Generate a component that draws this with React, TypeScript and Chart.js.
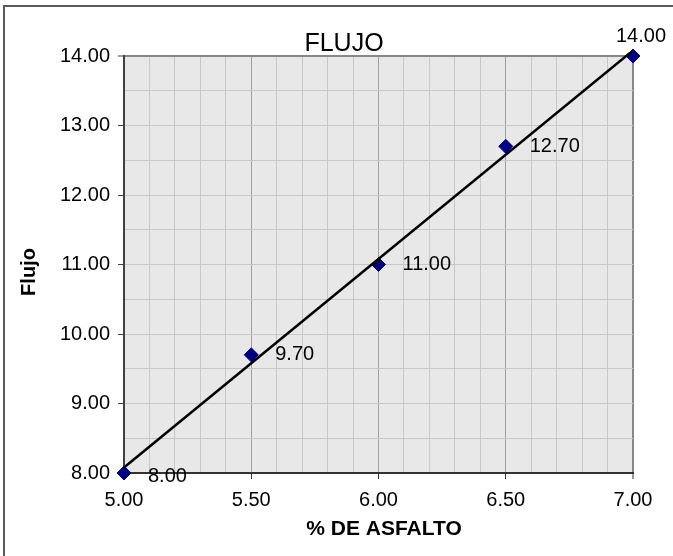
import React, { useEffect, useRef } from 'react';
import { Chart, registerables } from 'chart.js';

Chart.register(...registerables);

// ---- data ----
const asphaltPct = [5.0, 5.5, 6.0, 6.5, 7.0];
const flowValues = [8.0, 9.7, 11.0, 12.7, 14.0];
const xRange = [5, 7];
const yRange = [8, 14];
const chartTitle = 'FLUJO';
const xTitle = '% DE ASFALTO';
const yTitle = 'Flujo';

const FONT = '"Liberation Sans", Arial, Helvetica, sans-serif';

function linearFit(xs: number[], ys: number[]) {
  const n = xs.length;
  const mx = xs.reduce((a, b) => a + b, 0) / n;
  const my = ys.reduce((a, b) => a + b, 0) / n;
  let sxy = 0;
  let sxx = 0;
  for (let i = 0; i < n; i++) {
    sxy += (xs[i] - mx) * (ys[i] - my);
    sxx += (xs[i] - mx) * (xs[i] - mx);
  }
  const slope = sxy / sxx;
  return { slope, intercept: my - slope * mx };
}

const isMult = (v: number, step: number) => Math.abs(v / step - Math.round(v / step)) < 1e-6;

const decorPlugin = {
  id: 'decor',
  beforeDraw(chart: any) {
    const { ctx, chartArea: a } = chart;
    ctx.save();
    ctx.fillStyle = '#e8e8e8';
    ctx.fillRect(a.left, a.top, a.right - a.left, a.bottom - a.top);
    ctx.restore();
  },
  afterDraw(chart: any) {
    const { ctx } = chart;
    const xs = chart.scales.x;
    const ys = chart.scales.y;
    ctx.save();
    // outer frame
    ctx.strokeStyle = '#5a5a5a';
    ctx.lineWidth = 2;
    ctx.beginPath();
    ctx.moveTo(4, 700);
    ctx.lineTo(4, 6);
    ctx.lineTo(700, 6);
    ctx.stroke();

    ctx.fillStyle = '#000';
    // title
    ctx.font = `25px ${FONT}`;
    ctx.textAlign = 'center';
    ctx.textBaseline = 'alphabetic';
    ctx.fillText(chartTitle, 344, 51);

    // x title
    ctx.font = `bold 21px ${FONT}`;
    ctx.fillText(xTitle, 384, 535);

    // y title
    ctx.save();
    ctx.translate(35, 272);
    ctx.rotate(-Math.PI / 2);
    ctx.font = `bold 20px ${FONT}`;
    ctx.fillText(yTitle, 0, 0);
    ctx.restore();

    // data labels
    ctx.font = `20px ${FONT}`;
    const last = asphaltPct.length - 1;
    asphaltPct.forEach((xv, i) => {
      const px = xs.getPixelForValue(xv);
      const py = ys.getPixelForValue(flowValues[i]);
      const txt = flowValues[i].toFixed(2);
      if (i === last) {
        ctx.textAlign = 'center';
        ctx.textBaseline = 'alphabetic';
        ctx.fillText(txt, px + 8, py - 14);
      } else {
        ctx.textAlign = 'left';
        ctx.textBaseline = 'middle';
        ctx.fillText(txt, px + 24, py + (i === 0 ? 3 : 0));
      }
    });
    ctx.restore();
  },
};

export default function App() {
  const ref = useRef<HTMLCanvasElement | null>(null);

  useEffect(() => {
    if (!ref.current) return;
    const fit = linearFit(asphaltPct, flowValues);
    const trend = [xRange[0], xRange[1]].map((x) => ({ x, y: fit.intercept + fit.slope * x }));

    const chart = new Chart(ref.current, {
      type: 'scatter',
      data: {
        datasets: [
          {
            type: 'line',
            label: 'Tendencia',
            data: trend,
            borderColor: '#000',
            borderWidth: 2.5,
            pointRadius: 0,
            fill: false,
            clip: 4,
            order: 0,
          } as any,
          {
            label: 'Flujo',
            data: asphaltPct.map((x, i) => ({ x, y: flowValues[i] })),
            pointStyle: 'rectRot',
            pointRadius: 7,
            pointBackgroundColor: '#000080',
            pointBorderColor: '#000080',
            pointBorderWidth: 1,
            clip: false,
            order: 1,
          } as any,
        ],
      },
      options: {
        animation: false,
        responsive: false,
        devicePixelRatio: 1,
        layout: { padding: { left: 0, top: 56, right: 40, bottom: 0 } },
        plugins: {
          legend: { display: false },
          tooltip: { enabled: false },
          title: { display: false },
        },
        scales: {
          x: {
            type: 'linear',
            min: xRange[0],
            max: xRange[1],
            afterFit: (s: any) => {
              s.height = 83;
            },
            border: { color: '#333', width: 2 },
            grid: {
              color: (c: any) => {
                const v = c.tick.value;
                if (Math.abs(v - xRange[1]) < 1e-6) return '#888';
                return isMult(v, 0.5) ? '#a0a0a0' : '#c8c8c8';
              },
              lineWidth: (c: any) => (Math.abs(c.tick.value - xRange[1]) < 1e-6 ? 2 : 1),
              tickColor: (c: any) => (isMult(c.tick.value, 0.5) ? '#333' : 'rgba(0,0,0,0)'),
              tickLength: 6,
              tickWidth: 1,
            },
            ticks: {
              stepSize: 0.1,
              maxTicksLimit: 100,
              autoSkip: false,
              maxRotation: 0,
              padding: 9,
              color: '#000',
              font: { family: FONT, size: 20 },
              callback: (v: any) => (isMult(Number(v), 0.5) ? Number(v).toFixed(2) : ''),
            },
          },
          y: {
            type: 'linear',
            min: yRange[0],
            max: yRange[1],
            afterFit: (s: any) => {
              s.width = 124;
            },
            border: { color: '#404040', width: 2 },
            grid: {
              color: (c: any) => (Math.abs(c.tick.value - yRange[1]) < 1e-6 ? '#888' : '#c8c8c8'),
              lineWidth: (c: any) => (Math.abs(c.tick.value - yRange[1]) < 1e-6 ? 2 : 1),
              tickColor: (c: any) => (isMult(c.tick.value, 1) ? '#404040' : 'rgba(0,0,0,0)'),
              tickLength: 6,
              tickWidth: 1,
            },
            ticks: {
              stepSize: 0.5,
              maxTicksLimit: 100,
              autoSkip: false,
              padding: 8,
              color: '#000',
              font: { family: FONT, size: 20 },
              callback: (v: any) => (isMult(Number(v), 1) ? Number(v).toFixed(2) : ''),
            },
          },
        },
      },
      plugins: [decorPlugin],
    });
    return () => chart.destroy();
  }, []);

  return (
    <div style={{ position: 'fixed', left: 0, top: 0, width: 673, height: 556, background: '#fff' }}>
      <canvas ref={ref} width={673} height={556} style={{ display: 'block', width: 673, height: 556 }} />
    </div>
  );
}
